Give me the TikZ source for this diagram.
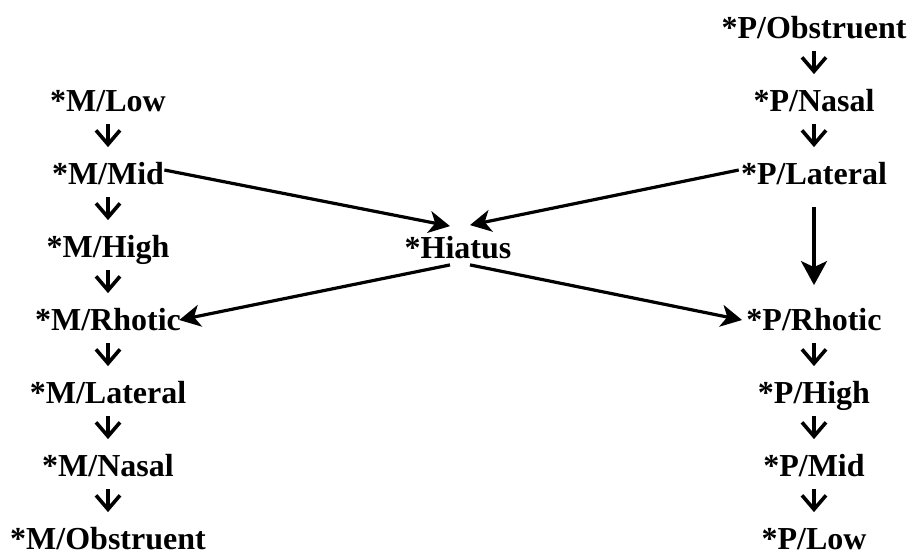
\documentclass[tikz,border=0pt]{standalone}
\usepackage{fontspec}
\setmainfont{Liberation Serif}
\usetikzlibrary{arrows.meta,positioning}

\begin{document}
\begin{tikzpicture}[x=0.5pt, y=-0.5pt,
    on grid, node distance=36.5pt,
    lbl/.style={font=\fontsize{16}{19}\selectfont\bfseries, inner sep=0pt,
        text height=10.5pt, text depth=0pt},
    smallarr/.style={-{Straight Barb[length=7pt, width=12pt]}, line width=1.8pt,
        shorten <=6pt, shorten >=8pt},
    bigarr/.style={-{Stealth[length=10.5pt, width=11pt, inset=3pt]}, line width=1.6pt},
    longarr/.style={-{Stealth[length=12pt, width=13pt, inset=3pt]}, line width=1.6pt}
]
    \useasboundingbox (0,0) rectangle (911,554);

    % M column
    \node[lbl] (mlow) at (108,101) {*M/Low};
    \node[lbl, below=of mlow] (mmid) {*M/Mid};
    \node[lbl, below=of mmid] (mhigh) {*M/High};
    \node[lbl, below=of mhigh] (mrho) {*M/Rhotic};
    \node[lbl, below=of mrho] (mlat) {*M/Lateral};
    \node[lbl, below=of mlat] (mnas) {*M/Nasal};
    \node[lbl, below=of mnas] (mobs) {*M/Obstruent};

    % P column
    \node[lbl] (pobs) at (814,28) {*P/Obstruent};
    \node[lbl, below=of pobs] (pnas) {*P/Nasal};
    \node[lbl, below=of pnas] (plat) {*P/Lateral};
    \node[lbl, below=73pt of plat] (prho) {*P/Rhotic};
    \node[lbl, below=of prho] (phigh) {*P/High};
    \node[lbl, below=of phigh] (pmid) {*P/Mid};
    \node[lbl, below=of pmid] (plow) {*P/Low};

    \node[lbl] (hiatus) at (458,248) {*Hiatus};

    \draw[smallarr] (mlow.south) -- (mmid.north);
    \draw[smallarr] (mmid.south) -- (mhigh.north);
    \draw[smallarr] (mhigh.south) -- (mrho.north);
    \draw[smallarr] (mrho.south) -- (mlat.north);
    \draw[smallarr] (mlat.south) -- (mnas.north);
    \draw[smallarr] (mnas.south) -- (mobs.north);

    \draw[smallarr] (pobs.south) -- (pnas.north);
    \draw[smallarr] (pnas.south) -- (plat.north);
    \draw[longarr, shorten <=11pt, shorten >=12pt] (plat.south) -- (prho.north);
    \draw[smallarr] (prho.south) -- (phigh.north);
    \draw[smallarr] (phigh.south) -- (pmid.north);
    \draw[smallarr] (pmid.south) -- (plow.north);

    \draw[bigarr] ([yshift=2pt]mmid.east) -- ([xshift=-4pt, yshift=5.5pt]hiatus.north);
    \draw[bigarr] ([xshift=-1pt, yshift=2pt]plat.west) -- ([xshift=6pt, yshift=6pt]hiatus.north);
    \draw[bigarr] ([xshift=-4pt, yshift=-3pt]hiatus.south) -- ([xshift=-1pt]mrho.east);
    \draw[bigarr] ([xshift=6pt, yshift=-3pt]hiatus.south) -- ([xshift=-2pt]prho.west);
\end{tikzpicture}
\end{document}
